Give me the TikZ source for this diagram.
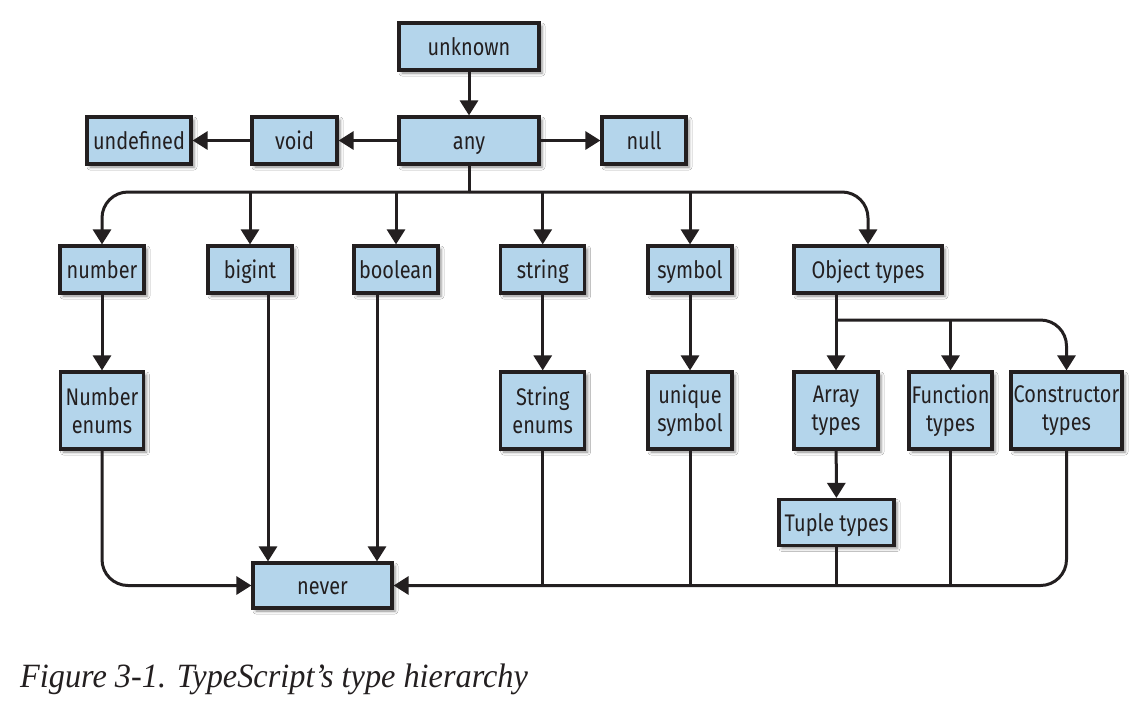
\documentclass[tikz,border=0pt]{standalone}
\usepackage{fontspec}
\setmainfont{Fira Sans}[FakeStretch=0.83]
\newfontfamily\capfont{Liberation Serif}[FakeStretch=0.95]
\usetikzlibrary{arrows.meta,shadows.blur}
\definecolor{boxblue}{RGB}{180,213,235}
\definecolor{ink}{RGB}{35,31,32}
\begin{document}
\begin{tikzpicture}[x=1pt,y=-1pt,
  tbox/.style={draw=ink, fill=boxblue, line width=3.2pt, inner sep=1pt, align=center, text=ink,
    font=\fontsize{24}{28}\selectfont,
    blur shadow={shadow xshift=3pt, shadow yshift=-3pt, shadow blur radius=3pt, shadow opacity=45}},
  one/.style={text height=22pt, text depth=5pt},
  conn/.style={draw=ink, line width=3pt},
  arr/.style={conn, -{Triangle[width=18pt,length=15pt]}},
  rc/.style={rounded corners=26pt}]
\fill[white] (0,0) rectangle (1137,705);
\useasboundingbox (0,0) rectangle (1137,705);

% nodes
\node[tbox, one, minimum width=140pt, minimum height=47pt] (unknown) at (469,46.5) {unknown};
\node[tbox, one, minimum width=140pt, minimum height=47pt] (any) at (469,140.5) {any};
\node[tbox, one, minimum width=104pt, minimum height=47pt] (undefined) at (139,140.5) {undefined};
\node[tbox, one, minimum width=85pt, minimum height=47pt] (void) at (294.5,140.5) {void};
\node[tbox, one, minimum width=84pt, minimum height=47pt] (null) at (644,140.5) {null};

\node[tbox, one, minimum width=84pt, minimum height=47pt] (number) at (102,269.5) {number};
\node[tbox, one, minimum width=84pt, minimum height=47pt] (bigint) at (250,269.5) {bigint};
\node[tbox, one, minimum width=84pt, minimum height=47pt] (boolean) at (396,269.5) {boolean};
\node[tbox, one, minimum width=84pt, minimum height=47pt] (string) at (542.7,269.5) {string};
\node[tbox, one, minimum width=84pt, minimum height=47pt] (symbol) at (690,269.5) {symbol};
\node[tbox, one, minimum width=148pt, minimum height=47pt] (obj) at (868,269.5) {Object types};

\node[tbox, minimum width=83pt, minimum height=77pt] (numenums) at (102,410.5) {Number\\enums};
\node[tbox, minimum width=84pt, minimum height=77pt] (strenums) at (542.7,410.5) {String\\enums};
\node[tbox, minimum width=84pt, minimum height=77pt] (usym) at (690,410.5) {unique\\symbol};
\node[tbox, minimum width=84pt, minimum height=77pt] (array) at (836,410.5) {Array\\types};
\node[tbox, minimum width=83pt, minimum height=77pt] (func) at (950.5,410.5) {Function\\types};
\node[tbox, minimum width=111pt, minimum height=77pt] (ctor) at (1066.5,410.5) {Constructor\\types};

\node[tbox, one, minimum width=115pt, minimum height=46pt] (tuple) at (836.5,522.5) {Tuple types};
\node[tbox, one, minimum width=139pt, minimum height=45pt] (never) at (322.5,585.5) {never};

\coordinate (bus) at (469,192);
\coordinate (ob) at (836,320);

% connectors
\draw[arr] (unknown) -- (any);
\draw[arr] (any) -- (void);
\draw[arr] (void) -- (undefined);
\draw[arr] (any) -- (null);

\draw[conn] (any.south) -- (bus);
\draw[arr, rc] (bus) -| (number.north);
\draw[arr, rc] (bus) -| (obj.north);
\draw[arr] (bigint.north |- bus) -- (bigint.north);
\draw[arr] (boolean.north |- bus) -- (boolean.north);
\draw[arr] (string.north |- bus) -- (string.north);
\draw[arr] (symbol.north |- bus) -- (symbol.north);

\draw[arr] (number) -- (numenums);
\draw[arr] (string) -- (strenums);
\draw[arr] (symbol) -- (usym);

\draw[arr] (array.north |- obj.south) -- (array.north);
\draw[arr, rc] (ob) -| (ctor.north);
\draw[arr] (func.north |- ob) -- (func.north);
\draw[arr] (array) -- (tuple);

\draw[arr] ([xshift=18pt]bigint.south) -- ([xshift=18pt]bigint.south |- never.north);
\draw[arr] ([xshift=-19pt]boolean.south) -- ([xshift=-19pt]boolean.south |- never.north);
\draw[arr, rc] (numenums.south) |- (never.west);
\draw[arr, rc] (ctor.south) |- (never.east);
\draw[conn] (strenums.south) -- (strenums.south |- never.east);
\draw[conn] (usym.south) -- (usym.south |- never.east);
\draw[conn] (tuple.south) -- (tuple.south |- never.east);
\draw[conn] (func.south) -- (func.south |- never.east);

\node[anchor=base west, inner sep=0pt, text=ink, font=\capfont\itshape\fontsize{34}{38}\selectfont] (caption) at (20,687) {Figure 3-1. TypeScript’s type hierarchy};
\end{tikzpicture}
\end{document}
